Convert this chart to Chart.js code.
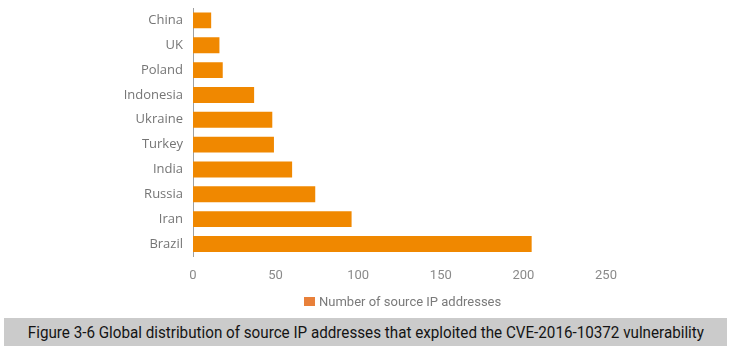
<!DOCTYPE html>
<html>
<head>
<meta charset="utf-8">
<script src="https://cdn.jsdelivr.net/npm/chart.js@4"></script>
<style>
  html, body { margin: 0; padding: 0; background: #fff; overflow: hidden; }
  #wrap { position: absolute; left: 0; top: 0; width: 732px; height: 296px; }
  #legend {
    position: absolute; left: 304px; top: 293px; height: 18px; line-height: 18px;
    font-family: Roboto, sans-serif; font-size: 13px; color: #7a7a7a; white-space: nowrap;
  }
  #legend i { display: inline-block; width: 11px; height: 9px; background: #e8803a; margin-right: 4px; }
  #caption {
    position: absolute; left: 4px; top: 318px; width: 723px; height: 28px;
    background: #cbcbcb; text-align: center; line-height: 30px;
    font-family: Roboto, sans-serif; font-size: 16px; color: #141414;
    overflow: hidden; white-space: nowrap;
  }
  #caption span { display: inline-block; transform: scaleX(0.95); }
</style>
</head>
<body>
<div id="wrap"><canvas id="myChart"></canvas></div>
<div id="legend"></div>
<div id="caption"><span>Figure 3-6 Global distribution of source IP addresses that exploited the CVE-2016-10372 vulnerability</span></div>
<script>
// countries top to bottom
var countries = ["China", "UK", "Poland", "Indonesia", "Ukraine", "Turkey", "India", "Russia", "Iran", "Brazil"];
var ipCounts = [11, 16, 18, 37, 48, 49, 60, 74, 96, 205];
var xTicks = [0, 50, 100, 150, 200, 250];
var seriesName = "Number of source IP addresses";

const ctx = document.getElementById("myChart").getContext("2d");
const legendBox = document.getElementById("legend");

const config = {
    type: "bar",
    data: {
        labels: countries,
        datasets: [{
            label: seriesName,
            data: ipCounts,
            backgroundColor: "#f08800",
            borderWidth: 0,
            categoryPercentage: 0.64,
            barPercentage: 1
        }]
    },
    options: {
        indexAxis: "y",
        responsive: true,
        maintainAspectRatio: false,
        animation: false,
        layout: { padding: { left: 0, right: 126, top: 8, bottom: 0 } },
        scales: {
            x: {
                min: xTicks[0],
                max: xTicks[xTicks.length - 1],
                afterBuildTicks: function(scale) {
                    scale.ticks = xTicks.map(v => ({ value: v }));
                },
                grid: { display: false, drawTicks: false },
                border: { display: false },
                ticks: {
                    color: "#8a8a8a",
                    font: { family: "Roboto", size: 13 },
                    padding: 12
                }
            },
            y: {
                grid: { display: false, drawTicks: false },
                border: { display: true, color: "#a0a0a0", width: 1 },
                afterFit: function(scale) {
                    scale.width = 193;
                    scale.paddingTop = 0;
                    scale.paddingBottom = 0;
                },
                ticks: {
                    color: "#757575",
                    font: { family: "Open Sans", size: 13 },
                    padding: 10
                }
            }
        },
        plugins: {
            legend: { display: false },
            tooltip: { enabled: false }
        }
    }
};

var displaychart = new Chart(ctx, config);

// legend drawn as html so it centres under the plot like the original
var ds = displaychart.data.datasets[0];
legendBox.innerHTML = "<i></i>" + ds.label;
</script>
</body>
</html>
